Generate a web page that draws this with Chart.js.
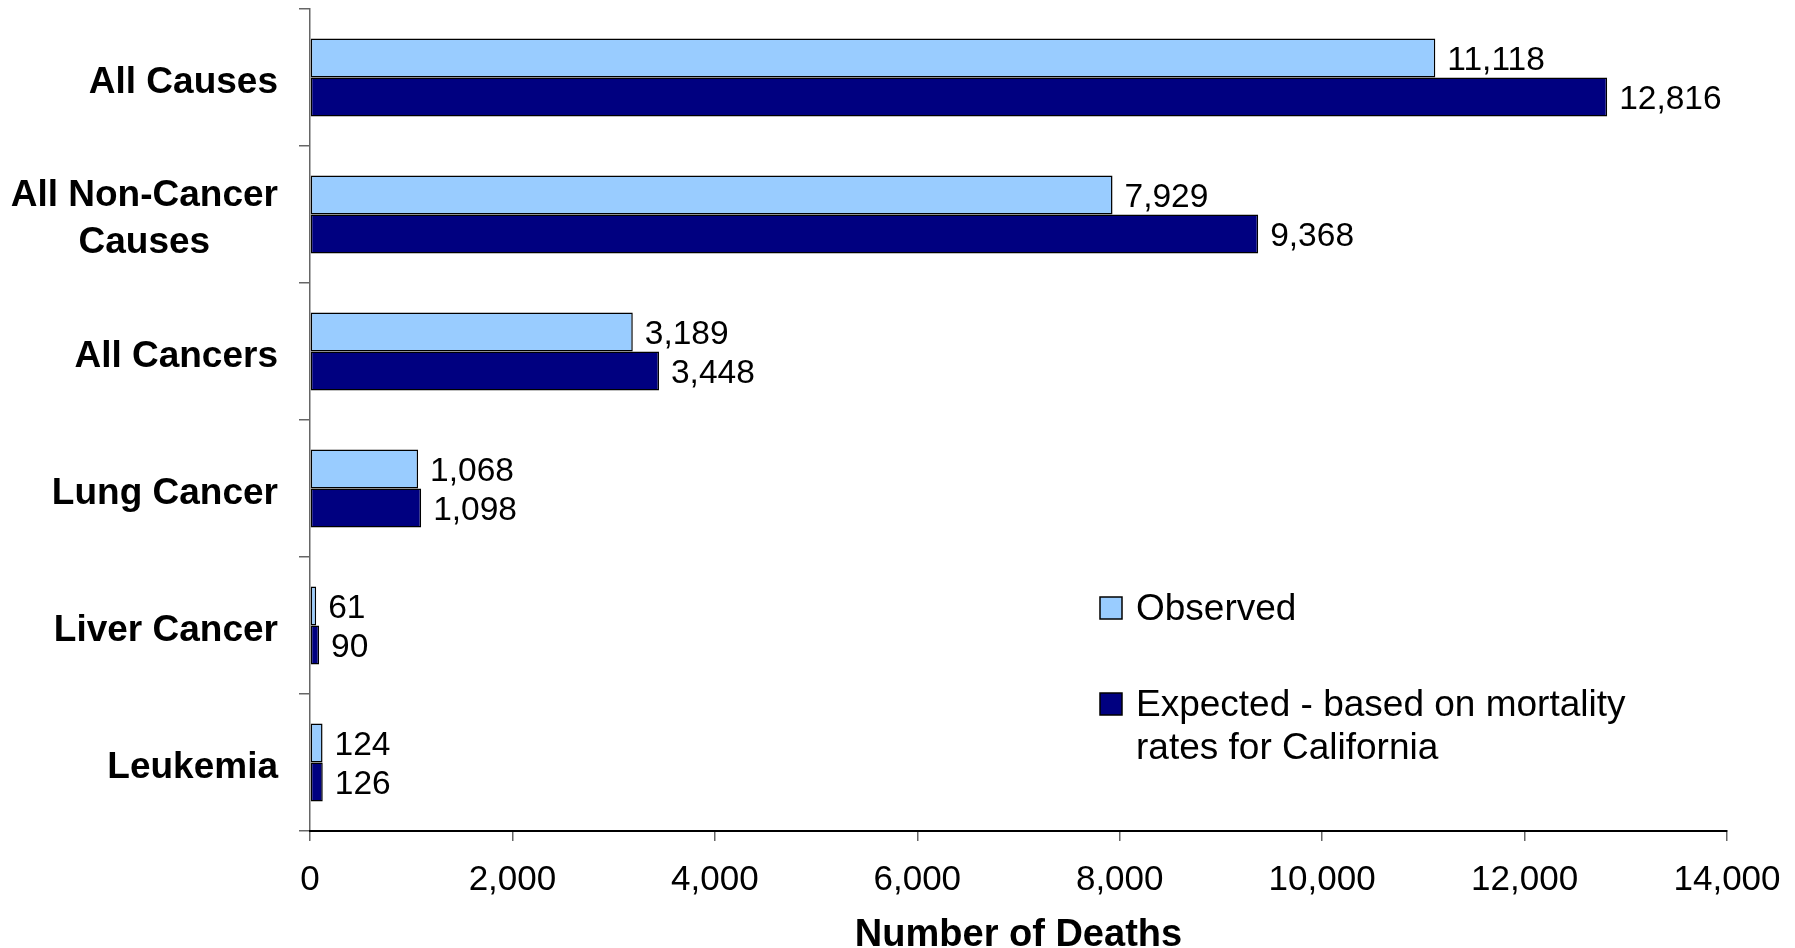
<!DOCTYPE html>
<html>
<head>
<meta charset="utf-8">
<title>Observed vs Expected Deaths</title>
<script src="https://cdn.jsdelivr.net/npm/chart.js@4.4.1/dist/chart.umd.min.js"></script>
<style>
  html, body { margin: 0; padding: 0; background: #fff; }
  #wrap { width: 1795px; height: 948px; }
</style>
</head>
<body>
<div id="wrap"><canvas id="deaths-chart" width="1795" height="948"></canvas></div>
<script>
// Categories, top to bottom (multi-line labels as arrays)
const categories = ['All Causes', ['All Non-Cancer', 'Causes'], 'All Cancers', 'Lung Cancer', 'Liver Cancer', 'Leukemia'];

// Series values
const observed = [11118, 7929, 3189, 1068, 61, 124];
const expected = [12816, 9368, 3448, 1098, 90, 126];

// Series names (legend)
const seriesNames = ['Observed', ['Expected - based on mortality', 'rates for California']];

// X axis tick values
const xTickValues = [0, 2000, 4000, 6000, 8000, 10000, 12000, 14000];

const FONT = "'Liberation Sans', Arial, sans-serif";
const fmt = v => v.toLocaleString('en-US');

// Category labels: lines centered on each other, block right-aligned to the axis
const categoryLabels = {
  id: 'categoryLabels',
  afterDraw(chart) {
    const ctx = chart.ctx;
    const yScale = chart.scales.y;
    const right = yScale.right - 32;
    const lineHeight = 47;
    ctx.save();
    ctx.font = 'bold 37px ' + FONT;
    ctx.fillStyle = '#000';
    ctx.textAlign = 'center';
    ctx.textBaseline = 'middle';
    categories.forEach((label, i) => {
      const lines = Array.isArray(label) ? label : [label];
      const widest = Math.max(...lines.map(l => ctx.measureText(l).width));
      const cx = right - widest / 2;
      const cy = yScale.getPixelForValue(i) + 5;
      const startY = cy - (lines.length - 1) * lineHeight / 2;
      lines.forEach((line, j) => ctx.fillText(line, cx, startY + j * lineHeight));
    });
    ctx.restore();
  }
};

// Value labels at the end of each bar
const valueLabels = {
  id: 'valueLabels',
  afterDatasetsDraw(chart) {
    const ctx = chart.ctx;
    ctx.save();
    ctx.font = '33.5px ' + FONT;
    ctx.fillStyle = '#000';
    ctx.textAlign = 'left';
    ctx.textBaseline = 'middle';
    chart.data.datasets.forEach((ds, di) => {
      const meta = chart.getDatasetMeta(di);
      meta.data.forEach((bar, i) => {
        ctx.fillText(fmt(ds.data[i]), bar.x + 12, bar.y + 3);
      });
    });
    ctx.restore();
  }
};

// Legend drawn inside the plot area, lower right
const innerLegend = {
  id: 'innerLegend',
  afterDraw(chart) {
    const ctx = chart.ctx;
    const area = chart.chartArea;
    const boxX = area.left + 790;
    const rows = [area.top + 599, area.top + 695];
    const lineHeight = 43;
    ctx.save();
    ctx.font = '37px ' + FONT;
    ctx.textBaseline = 'middle';
    ctx.textAlign = 'left';
    chart.data.datasets.forEach((ds, di) => {
      const y = rows[di];
      ctx.fillStyle = ds.backgroundColor;
      ctx.fillRect(boxX, y - 11, 22, 22);
      ctx.lineWidth = 1.5;
      ctx.strokeStyle = '#000';
      ctx.strokeRect(boxX, y - 11, 22, 22);
      const lines = Array.isArray(seriesNames[di]) ? seriesNames[di] : [seriesNames[di]];
      ctx.fillStyle = '#000';
      lines.forEach((line, j) => ctx.fillText(line, boxX + 36, y + 2 + j * lineHeight));
    });
    ctx.restore();
  }
};

const ctx = document.getElementById('deaths-chart').getContext('2d');
window.deathsChart = new Chart(ctx, {
  type: 'bar',
  data: {
    labels: categories,
    datasets: [
      {
        label: 'Observed',
        data: observed,
        backgroundColor: '#99CCFF',
        borderColor: '#000',
        borderWidth: 1.5,
        borderSkipped: false,
        categoryPercentage: 0.57,
        barPercentage: 1.0
      },
      {
        label: 'Expected',
        data: expected,
        backgroundColor: '#000080',
        borderColor: '#000',
        borderWidth: 1.5,
        borderSkipped: false,
        categoryPercentage: 0.57,
        barPercentage: 1.0
      }
    ]
  },
  options: {
    indexAxis: 'y',
    responsive: false,
    animation: false,
    layout: {
      padding: { top: 9, right: 68, bottom: 0, left: 0 }
    },
    scales: {
      y: {
        type: 'category',
        afterFit(scale) { scale.width = 310; },
        ticks: { display: false },
        grid: {
          offset: true,
          drawOnChartArea: false,
          tickLength: 11,
          color: '#666',
          lineWidth: 1.5
        },
        border: { color: '#666', width: 1.5 }
      },
      x: {
        min: 0,
        max: 14000,
        afterBuildTicks(scale) {
          scale.ticks = xTickValues.map(v => ({ value: v }));
        },
        afterFit(scale) {
          scale.height = 117;
          // let layout.padding decide the right edge, not the label overhang
          scale.paddingLeft = 0;
          scale.paddingRight = 0;
        },
        ticks: {
          font: { family: FONT, size: 35, lineHeight: 1 },
          color: '#000',
          padding: 22,
          maxRotation: 0,
          callback: v => fmt(v)
        },
        grid: {
          drawOnChartArea: false,
          tickLength: 10,
          color: '#666',
          lineWidth: 1.5
        },
        border: { color: '#000', width: 2 },
        title: {
          display: true,
          text: 'Number of Deaths',
          color: '#000',
          font: { family: FONT, size: 38, weight: 'bold', lineHeight: 1 },
          padding: { top: 0, bottom: -7 }
        }
      }
    },
    plugins: {
      legend: { display: false },
      tooltip: { enabled: false }
    }
  },
  plugins: [categoryLabels, valueLabels, innerLegend]
});
</script>
</body>
</html>
